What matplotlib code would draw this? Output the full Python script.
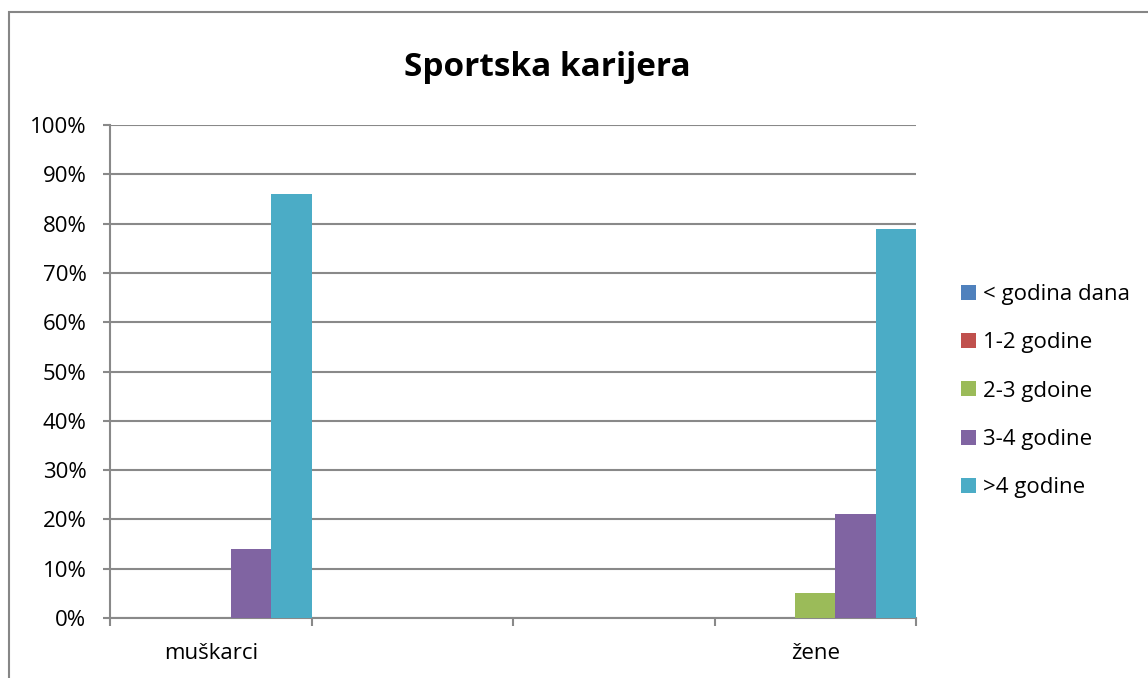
import matplotlib
matplotlib.use("Agg")
import matplotlib.pyplot as plt
import numpy as np
from matplotlib.patches import Rectangle
from matplotlib.ticker import FixedLocator, PercentFormatter

plt.rcParams['font.family'] = ['Open Sans', 'DejaVu Sans']

categories = ["muškarci", "", "", "žene"]
series_names = ["< godina dana", "1-2 godine", "2-3 gdoine", "3-4 godine", ">4 godine"]
series_values = [
    [0, 0, 0, 0],
    [0, 0, 0, 0],
    [0, 0, 0, 5],
    [14, 0, 0, 21],
    [86, 0, 0, 79],
]
colors = ["#4F81BD", "#C0504D", "#9BBB59", "#8064A2", "#4BACC6"]
title = "Sportska karijera"

W, H = 1148, 678
fig = plt.figure(figsize=(W / 100, H / 100), dpi=100)
fig.patch.set_facecolor("white")

# outer chart border
fig.patches.append(Rectangle((9 / W, -0.1), 1.2, (H - 12) / H + 0.1,
                             transform=fig.transFigure, fill=False,
                             edgecolor="#868686", linewidth=1.5))

ax = fig.add_axes([110 / W, 1 - 618 / H, (916 - 110) / W, (618 - 125) / H])
grid_c = "#898989"

x = np.arange(len(categories))
n = len(series_names)
bw = 1.0 / n
for i, (name, vals, c) in enumerate(zip(series_names, series_values, colors)):
    ax.bar(x + (i - (n - 1) / 2) * bw, vals, width=bw, color=c, label=name,
           zorder=3, linewidth=0)

ax.set_xlim(-0.5, len(categories) - 0.5)
ax.set_ylim(0, 100)
ax.set_yticks(np.arange(0, 101, 10))
ax.yaxis.set_major_formatter(PercentFormatter(decimals=0))
ax.yaxis.grid(True, color=grid_c, linewidth=1.5, zorder=0)
ax.set_axisbelow(True)

ax.set_xticks(x)
ax.set_xticklabels(categories)
ax.xaxis.set_minor_locator(FixedLocator(np.arange(-0.5, len(categories), 1.0)))
ax.tick_params(axis="x", which="major", length=0, pad=18, labelsize=16)
ax.tick_params(axis="x", which="minor", length=6, width=1.5, color=grid_c, direction="out")
ax.tick_params(axis="y", length=5, width=1.5, color=grid_c, direction="out", pad=12, labelsize=16)

for s in ["top", "right"]:
    ax.spines[s].set_visible(False)
for s in ["left", "bottom"]:
    ax.spines[s].set_color(grid_c)
    ax.spines[s].set_linewidth(1.5)

fig.text(547 / W, 1 - 68 / H, title, ha="center", va="center",
         fontsize=24, fontweight="bold")

leg = fig.legend(loc="upper left", bbox_to_anchor=(961 / W, 1 - 284 / H),
                 frameon=False, fontsize=16, handlelength=0.68, handleheight=0.65,
                 handletextpad=0.3, labelspacing=1.23, borderaxespad=0,
                 borderpad=0)

fig.savefig("out.png", dpi=100)
